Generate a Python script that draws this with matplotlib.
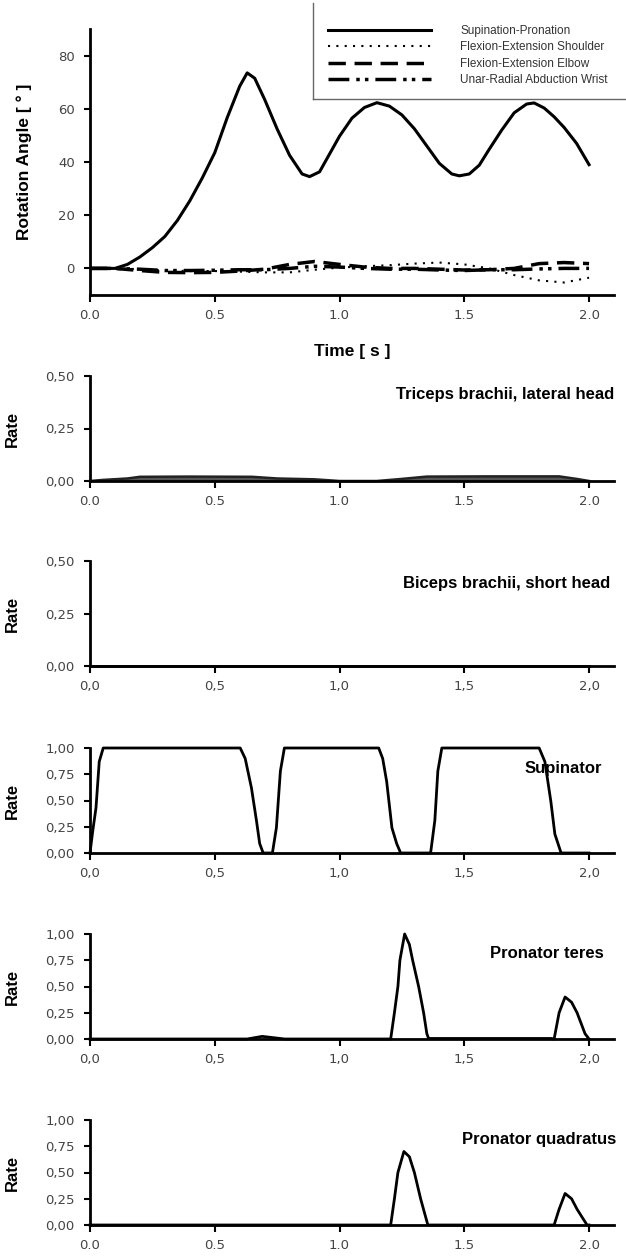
import matplotlib
matplotlib.use("Agg")
import matplotlib.pyplot as plt
from matplotlib.lines import Line2D
from matplotlib.ticker import FuncFormatter

# ---- data ----
# joint angles (deg) vs time (s)
t_sup = [0, 0.1, 0.15, 0.2, 0.25, 0.3, 0.35, 0.4, 0.45, 0.5, 0.55, 0.6, 0.63, 0.66,
         0.7, 0.75, 0.8, 0.85, 0.88, 0.92, 0.96, 1.0, 1.05, 1.1, 1.15, 1.2, 1.25,
         1.3, 1.35, 1.4, 1.45, 1.48, 1.52, 1.56, 1.6, 1.65, 1.7, 1.75, 1.78, 1.82,
         1.86, 1.9, 1.95, 2.0]
sup_pron = [0, 0, 1.5, 4.3, 7.8, 12, 18, 25.4, 34, 43.5, 56.7, 68.5, 73.5, 71.5,
            63.5, 52.4, 42.5, 35.5, 34.5, 36.3, 43, 49.7, 56.5, 60.5, 62.3, 61, 57.7,
            52.5, 46, 39.5, 35.5, 34.8, 35.5, 38.8, 44.8, 52, 58.5, 61.8, 62.2, 60.3,
            57, 53, 47, 39]

t_small = [0, 0.1, 0.2, 0.3, 0.4, 0.5, 0.6, 0.7, 0.8, 0.9, 1.0, 1.1, 1.2, 1.3, 1.4,
           1.5, 1.6, 1.7, 1.8, 1.9, 2.0]
flex_shoulder = [0, 0, -0.3, -0.8, -1, -1, -1.2, -1.5, -1.5, -0.5, 0.3, 0.8, 1.2, 1.8,
                 2.2, 1.5, 0, -2.5, -4.5, -5.3, -3.5]
flex_elbow = [0, 0, -0.8, -1.5, -1.6, -1.5, -1, -0.3, 1.5, 2.6, 1.5, 0.5, 0, 0, -0.3,
              -0.6, -0.5, 0, 1.8, 2.2, 1.8]
abd_wrist = [0, 0, -0.3, -0.8, -0.8, -0.7, -0.5, -0.5, 0, 0.8, 0.5, 0, -0.3, -0.3, -0.6,
             -0.8, -0.5, -0.5, -0.2, 0, 0]

angle_labels = ["Supination-Pronation", "Flexion-Extension Shoulder",
                "Flexion-Extension Elbow", "Unar-Radial Abduction Wrist"]

# muscle activation rates
t_tri = [0, 0.05, 0.15, 0.2, 0.4, 0.65, 0.75, 0.9, 1.0, 1.15, 1.25, 1.35, 1.6, 1.88, 1.95, 2.0]
triceps = [0, 0.005, 0.012, 0.02, 0.021, 0.02, 0.012, 0.008, 0, 0, 0.01, 0.021, 0.022,
           0.022, 0.01, 0]

t_bic = [0, 2.0]
biceps = [0, 0]

t_supi = [0, 0.011, 0.024, 0.037, 0.053, 0.602, 0.622, 0.647, 0.667, 0.68, 0.694,
          0.731, 0.747, 0.763, 0.779, 1.157, 1.173, 1.189, 1.21, 1.229, 1.245, 1.365,
          1.382, 1.394, 1.41, 1.8, 1.823, 1.847, 1.863, 1.888, 2.0]
supinator = [0, 0.21, 0.43, 0.87, 1, 1, 0.9, 0.62, 0.31, 0.09, 0, 0, 0.24, 0.78, 1, 1,
             0.9, 0.68, 0.24, 0.09, 0, 0, 0.31, 0.78, 1, 1, 0.87, 0.49, 0.18, 0, 0]

t_pt = [0, 0.63, 0.69, 0.78, 1.205, 1.22, 1.234, 1.242, 1.261, 1.28, 1.293, 1.317,
        1.337, 1.35, 1.357, 1.85, 1.86, 1.88, 1.904, 1.93, 1.952, 1.984, 2.0]
pron_teres = [0, 0, 0.025, 0, 0, 0.25, 0.5, 0.75, 1.0, 0.9, 0.75, 0.5, 0.25, 0.05, 0.005,
              0.005, 0, 0.25, 0.4, 0.35, 0.25, 0.05, 0]

t_pq = [0, 1.205, 1.22, 1.234, 1.258, 1.28, 1.30, 1.325, 1.354, 1.86, 1.88, 1.904,
        1.93, 1.952, 1.992, 2.0]
pron_quad = [0, 0, 0.25, 0.5, 0.7, 0.65, 0.5, 0.25, 0, 0, 0.15, 0.3, 0.25, 0.15, 0, 0]

rate_titles = ["Triceps brachii, lateral head", "Biceps brachii, short head",
               "Supinator", "Pronator teres", "Pronator quadratus"]
rate_max = [0.5, 0.5, 1.0, 1.0, 1.0]
x_sep = [".", ",", ",", ",", "."]

# ---- layout ----
W, H = 626, 1256
fig = plt.figure(figsize=(W / 100, H / 100), dpi=100)
plt.rcParams["font.family"] = ["DejaVu Sans"]

left = 90 / W
width = 524 / W
bold = dict(family=["Liberation Sans", "DejaVu Sans"], weight="bold")


def style_axes(ax, sep_x):
    for s in ["top", "right"]:
        ax.spines[s].set_visible(False)
    for s in ["left", "bottom"]:
        ax.spines[s].set_linewidth(2)
    ax.set_xlim(0, 2.1)
    ax.set_xticks([0, 0.5, 1.0, 1.5, 2.0])
    ax.xaxis.set_major_formatter(FuncFormatter(lambda v, p: f"{v:.1f}".replace(".", sep_x)))
    ax.tick_params(axis="x", length=5, width=1.5, pad=5, labelsize=9.5, labelcolor="#444")
    ax.tick_params(axis="y", length=4, width=1.5, pad=7, labelsize=9.5, labelcolor="#444")


# top panel: rotation angles
ax0 = fig.add_axes([left, 1 - 295 / H, width, 266 / H])
ax0.plot(t_sup, sup_pron, color="black", lw=2.2)
ax0.plot(t_small, flex_shoulder, color="black", lw=1.5, ls=(0, (1, 3)))
ax0.plot(t_small, flex_elbow, color="black", lw=2.5, ls=(0, (5, 2.5)))
ax0.plot(t_small, abd_wrist, color="black", lw=2.5, ls=(0, (6, 2, 1, 1.5, 1, 2)))
ax0.set_ylim(-10, 90)
ax0.set_yticks([0, 20, 40, 60, 80])
style_axes(ax0, ".")
ax0.yaxis.set_major_formatter(FuncFormatter(lambda v, p: f"{v:.0f}"))
ax0.set_ylabel("Rotation Angle [ ° ]", fontsize=12.5, **bold)
ax0.yaxis.set_label_coords(-0.111, 0.5)
ax0.set_xlabel("Time [ s ]", fontsize=12.5, **bold)
ax0.xaxis.set_label_coords(0.5, -0.185)

handles = [Line2D([], [], color="black", lw=2.2),
           Line2D([], [], color="black", lw=1.5, ls=(0, (1, 3))),
           Line2D([], [], color="black", lw=2.5, ls=(0, (5, 2.5))),
           Line2D([], [], color="black", lw=2.5, ls=(0, (6, 2, 1, 1.5, 1, 2)))]
leg = ax0.legend(handles, angle_labels, loc="upper left",
                 bbox_to_anchor=(322 / W, 1 - 19 / H), bbox_transform=fig.transFigure,
                 frameon=False, borderpad=0, handlelength=8.7, handletextpad=2.5,
                 labelspacing=0.38, prop=dict(family=["Liberation Sans", "DejaVu Sans"], size=8.5))
for txt in leg.get_texts():
    txt.set_color("#333")
fig.add_artist(Line2D([313 / W, 313 / W], [1 - 3 / H, 1 - 99 / H], color="#666", lw=1,
                      transform=fig.transFigure))
fig.add_artist(Line2D([313 / W, 1.0], [1 - 99 / H, 1 - 99 / H], color="#666", lw=1,
                      transform=fig.transFigure))

# rate panels
bottoms = [481, 666, 853, 1039, 1225]
series = [(t_tri, triceps), (t_bic, biceps), (t_supi, supinator), (t_pt, pron_teres),
          (t_pq, pron_quad)]
title_pos = [(1.0, 0.82), (0.992, 0.79), (0.977, 0.80), (0.981, 0.81), (1.004, 0.81)]
for i in range(5):
    ax = fig.add_axes([left, 1 - bottoms[i] / H, width, 105 / H])
    tt, vv = series[i]
    if i == 0:
        ax.fill_between(tt, 0, vv, color="#555", lw=0, clip_on=False)
        ax.plot(tt, vv, color="#222", lw=1.8, clip_on=False)
    else:
        ax.plot(tt, vv, color="black", lw=2, clip_on=False)
    ax.set_ylim(0, rate_max[i])
    if rate_max[i] == 0.5:
        ax.set_yticks([0, 0.25, 0.5])
    else:
        ax.set_yticks([0, 0.25, 0.5, 0.75, 1.0])
    style_axes(ax, x_sep[i])
    ax.yaxis.set_major_formatter(FuncFormatter(lambda v, p: f"{v:.2f}".replace(".", ",")))
    ax.set_ylabel("Rate", fontsize=12, **bold)
    ax.yaxis.set_label_coords(-0.134, 0.5)
    ax.text(title_pos[i][0], title_pos[i][1], rate_titles[i], transform=ax.transAxes,
            ha="right", va="center", fontsize=12, **bold)

fig.savefig("out.png", dpi=100)
